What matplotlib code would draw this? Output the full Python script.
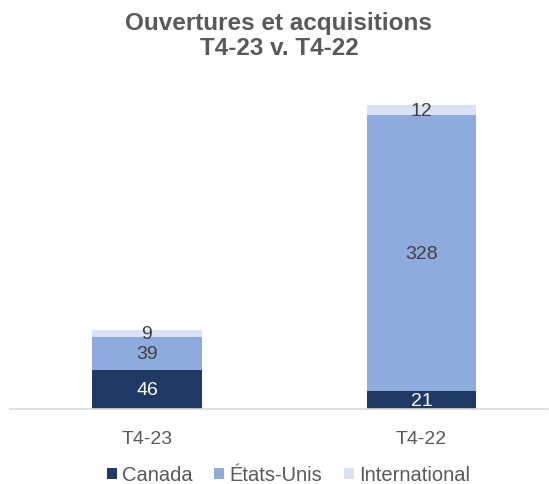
import matplotlib
matplotlib.use("Agg")
from matplotlib import pyplot as plt

plt.rcParams['font.family'] = ['Liberation Sans', 'DejaVu Sans']

# data
periods = ['T4-23', 'T4-22']
canada = [46, 21]
etats_unis = [39, 328]
international = [9, 12]
series_names = ['Canada', 'États-Unis', 'International']
colors = ['#1F3864', '#8FAADC', '#DAE3F3']
label_colors = ['white', '#404040', '#404040']

fig = plt.figure(figsize=(5.49, 4.85), dpi=100)
ax = fig.add_axes([10 / 549, 75 / 485, 538 / 549, 320 / 485])

x = [0, 1]
bottom = [0, 0]
for vals, name, col, lc in zip([canada, etats_unis, international], series_names, colors, label_colors):
    ax.bar(x, vals, width=0.4, bottom=bottom, color=col, label=name)
    for xi, v, b in zip(x, vals, bottom):
        ax.text(xi, b + v / 2, str(v), ha='center', va='center', fontsize=14, color=lc)
    bottom = [b + v for b, v in zip(bottom, vals)]

ax.set_xlim(-0.499, 1.461)
ax.set_ylim(0, 380)
ax.set_yticks([])
ax.set_xticks(x)
ax.set_xticklabels(periods, fontsize=14, color='#595959')
ax.tick_params(axis='x', length=0, pad=15)
for s in ['top', 'right', 'left']:
    ax.spines[s].set_visible(False)
ax.spines['bottom'].set_color('#D9D9D9')
ax.spines['bottom'].set_linewidth(1.2)

fig.suptitle('Ouvertures et acquisitions\nT4-23 v. T4-22', x=0.508, y=0.975, fontsize=17.5,
             fontweight='bold', color='#595959', linespacing=1.1)

fig.legend(loc='center', bbox_to_anchor=(0.5255, 9 / 485), ncol=3, frameon=False,
           fontsize=14.5, handlelength=0.5, handleheight=0.5, handletextpad=0.25,
           columnspacing=1.1, labelcolor='#595959', borderpad=0)

fig.savefig('out.png', dpi=100)
